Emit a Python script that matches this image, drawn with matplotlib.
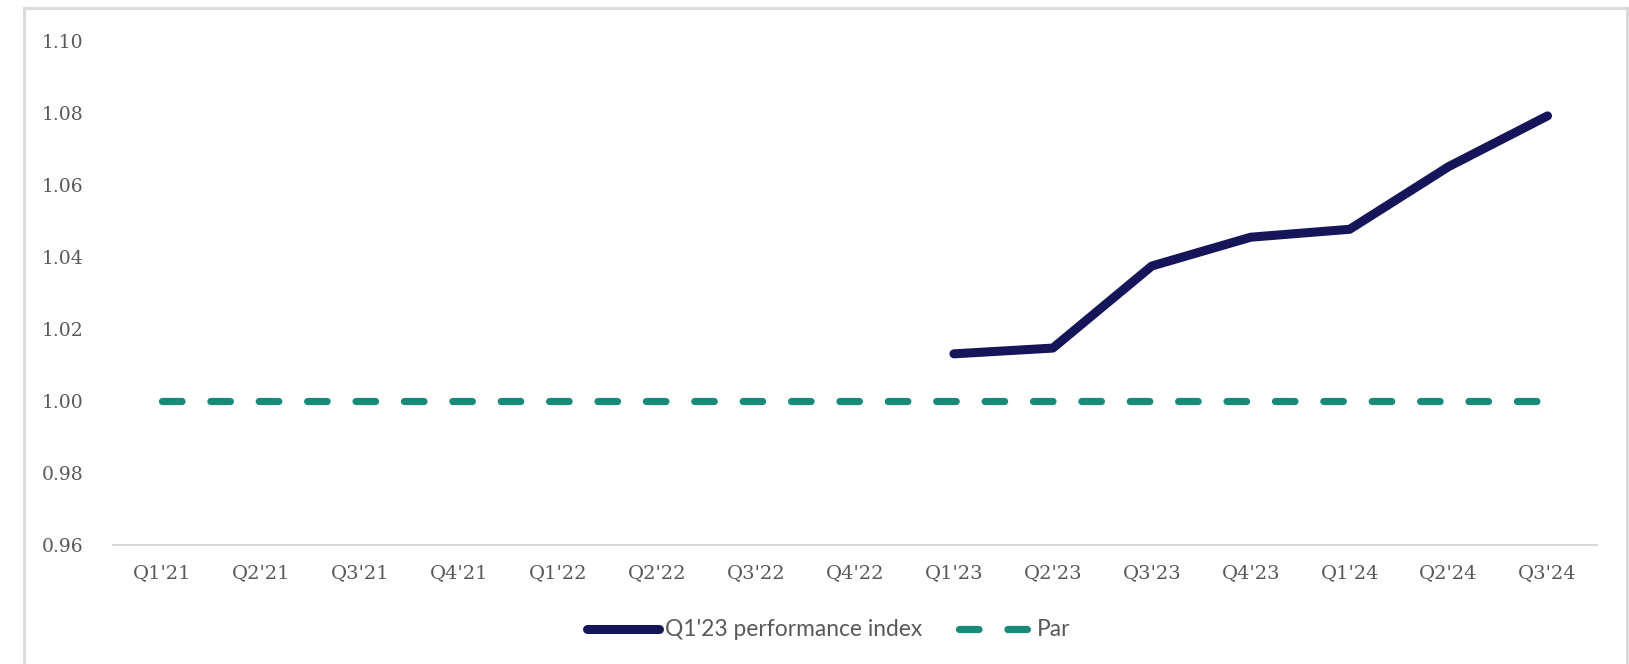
import matplotlib
matplotlib.use("Agg")
import matplotlib.pyplot as plt
from matplotlib.lines import Line2D
import numpy as np

categories = ["Q1'21", "Q2'21", "Q3'21", "Q4'21", "Q1'22", "Q2'22", "Q3'22", "Q4'22",
              "Q1'23", "Q2'23", "Q3'23", "Q4'23", "Q1'24", "Q2'24", "Q3'24"]
perf_index = [None, None, None, None, None, None, None, None,
              1.0131, 1.0147, 1.0375, 1.0455, 1.0477, 1.0651, 1.0792]
par = [1.0] * 15
y_ticks = [0.96, 0.98, 1.00, 1.02, 1.04, 1.06, 1.08, 1.10]

navy = "#15155a"
teal = "#188a7a"
gray_text = "#595959"

W, H = 1629, 664
fig = plt.figure(figsize=(W / 100, H / 100), dpi=100)
ax = fig.add_axes([113 / W, 1 - 545 / H, (1597 - 113) / W, (545 - 41) / H])

x = np.arange(len(categories))
perf = np.array([np.nan if v is None else v for v in perf_index], dtype=float)

ax.plot(x, par, color=teal, lw=5.2, dashes=(2.7, 4.0), dash_capstyle="round",
        solid_capstyle="round", label="Par", zorder=2)
ax.plot(x, perf, color=navy, lw=6.5, solid_capstyle="round", solid_joinstyle="round",
        label="Q1'23 performance index", zorder=3)

ax.set_xlim(-0.5, len(categories) - 0.5)
ax.set_ylim(0.96, 1.10)
ax.set_xticks(x)
ax.set_xticklabels(categories, family="DejaVu Serif", fontsize=14, color=gray_text)
ax.set_yticks(y_ticks)
ax.set_yticklabels([f"{v:.2f}" for v in y_ticks], family="DejaVu Serif", fontsize=13.5,
                   color=gray_text)
ax.tick_params(axis="both", length=0)
ax.tick_params(axis="x", pad=14)
ax.tick_params(axis="y", pad=21)
for s in ["left", "right", "top"]:
    ax.spines[s].set_visible(False)
ax.spines["bottom"].set_color("#d9d9d9")
ax.spines["bottom"].set_linewidth(1.5)

# outer chart border
bc = "#d9d9d9"
fig.add_artist(Line2D([24 / W, 24 / W], [0, 1 - 8 / H], transform=fig.transFigure, color=bc, lw=2))
fig.add_artist(Line2D([24 / W, 1627 / W], [1 - 8 / H, 1 - 8 / H], transform=fig.transFigure, color=bc, lw=2))
fig.add_artist(Line2D([1627 / W, 1627 / W], [0, 1 - 8 / H], transform=fig.transFigure, color=bc, lw=2))

handles = [Line2D([], [], color=navy, lw=6.5, solid_capstyle="round"),
           Line2D([], [], color=teal, lw=5.2, dashes=(2.7, 4.0), dash_capstyle="round")]
leg = fig.legend(handles, ["Q1'23 performance index", "Par"], loc="center",
                 bbox_to_anchor=(829 / W, 1 - 630 / H), ncol=2, frameon=False,
                 handlelength=3.15, handletextpad=0.28, columnspacing=1.6,
                 prop={"family": "Lato", "size": 16.4})
for t in leg.get_texts():
    t.set_color(gray_text)

fig.savefig("out.png", dpi=100, facecolor="white")
